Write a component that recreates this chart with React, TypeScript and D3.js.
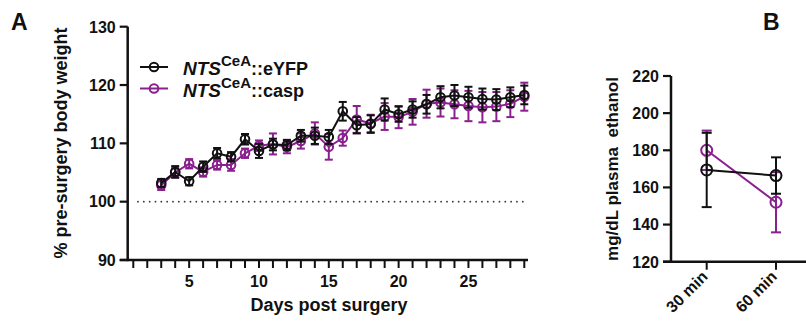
import React from "react";
import * as d3 from "d3";

// ---------- Panel A data ----------
const days = [3,4,5,6,7,8,9,10,11,12,13,14,15,16,17,18,19,20,21,22,23,24,25,26,27,28,29];
const eyfpMean = [103.2,105.1,103.5,106.0,108.3,107.7,110.7,108.7,109.8,109.7,111.3,111.3,111.1,115.5,113.1,113.3,115.8,115.0,115.8,116.7,117.9,118.2,117.9,117.6,117.5,117.9,118.3];
const eyfpSem  = [0.7,1.0,0.7,0.9,0.9,0.8,0.9,1.2,1.0,0.9,1.0,1.4,1.2,1.6,1.4,1.5,1.9,1.3,1.4,1.6,1.9,1.8,1.8,1.8,1.8,1.7,1.6];
const caspMean = [102.8,105.0,106.5,105.1,106.3,106.3,108.3,109.6,109.9,109.4,110.4,111.7,109.4,110.9,114.1,113.4,114.6,114.5,115.4,116.8,117.0,116.7,116.4,116.2,116.3,116.8,118.0];
const caspSem  = [0.8,0.8,0.8,0.8,0.8,1.0,0.8,0.9,1.8,1.1,1.3,1.9,2.2,1.3,2.3,1.5,2.3,1.9,2.2,2.4,2.4,2.4,2.6,2.6,2.5,2.3,2.4];
const xTickDays = d3.range(1, 30);
const xTickLabels = [5, 10, 15, 20, 25];
const yTicksA = [90, 100, 110, 120, 130];

// ---------- Panel B data ----------
const timepoints = ["30 min", "60 min"];
const eyfpEtOH = [169.4, 166.4];
const eyfpEtOHSem = [20.0, 9.8];
const caspEtOH = [180.0, 152.0];
const caspEtOHSem = [10.6, 16.2];
const yTicksB = [120, 140, 160, 180, 200, 220];

const BLACK = "#111111";
const PURPLE = "#8a1f8e";
const FONT = "'Liberation Sans', Arial, sans-serif";

function Series({ xs, ys, es, color, x, y, r, cap }) {
  const line = d3.line().x((d) => d[0]).y((d) => d[1]);
  const pts = xs.map((d, i) => [x(d), y(ys[i])]);
  return (
    <g>
      <path d={line(pts)} fill="none" stroke={color} strokeWidth={2} />
      {xs.map((d, i) => {
        const cx = x(d);
        const top = y(ys[i] + es[i]);
        const bot = y(ys[i] - es[i]);
        return (
          <g key={i} stroke={color} strokeWidth={2} fill="none">
            <line x1={cx} x2={cx} y1={top} y2={bot} />
            <line x1={cx - cap / 2} x2={cx + cap / 2} y1={top} y2={top} />
            <line x1={cx - cap / 2} x2={cx + cap / 2} y1={bot} y2={bot} />
            <circle cx={cx} cy={y(ys[i])} r={r} />
          </g>
        );
      })}
    </g>
  );
}

export default function App() {
  // Panel A scales
  const xA = d3.scaleLinear().domain([1, 29]).range([133.3, 524.3]);
  const yA = d3.scaleLinear().domain([90, 130]).range([260, 26.7]);
  const axAx = 127.7;

  // Panel B scales
  const xB = d3.scalePoint().domain(timepoints).range([706.7, 776]).padding(0);
  const yB = d3.scaleLinear().domain([120, 220]).range([261.7, 76]);
  const axBx = 671;

  const dots = d3.range(138, 528, 5.83);

  return (
    <svg
      width={806}
      height={327}
      style={{ position: "absolute", left: 0, top: 0, background: "#fff" }}
      fontFamily={FONT}
      fontWeight="bold"
    >
      <rect width={806} height={327} fill="#fff" />
      {/* Panel labels */}
      <text x={11} y={30} fontSize={23} fill={BLACK}>A</text>
      <text x={763} y={30} fontSize={23} fill={BLACK}>B</text>

      {/* ---------- Panel A ---------- */}
      {dots.map((dx, i) => (
        <circle key={i} cx={dx} cy={yA(100)} r={0.9} fill="#333" />
      ))}
      <line x1={axAx} x2={axAx} y1={yA(130)} y2={yA(90) + 1.2} stroke={BLACK} strokeWidth={2.5} />
      {yTicksA.map((t) => (
        <g key={t}>
          <line x1={axAx - 8} x2={axAx} y1={yA(t)} y2={yA(t)} stroke={BLACK} strokeWidth={2.2} />
          <text x={axAx - 12} y={yA(t) + 5.8} fontSize={16} textAnchor="end" fill={BLACK}>{t}</text>
        </g>
      ))}
      <line x1={axAx - 8} x2={528} y1={yA(90)} y2={yA(90)} stroke={BLACK} strokeWidth={2.5} />
      {xTickDays.map((d) => (
        <line key={d} x1={xA(d)} x2={xA(d)} y1={yA(90)} y2={yA(90) + 8} stroke={BLACK} strokeWidth={2} />
      ))}
      {xTickLabels.map((d) => (
        <text key={d} x={xA(d)} y={287} fontSize={16} textAnchor="middle" fill={BLACK}>{d}</text>
      ))}
      <text x={329} y={311} fontSize={18} textAnchor="middle" fill={BLACK}>Days post surgery</text>
      <text transform={`translate(67,143) rotate(-90)`} fontSize={18} textAnchor="middle" fill={BLACK}>
        % pre-surgery body weight
      </text>

      <Series xs={days} ys={caspMean} es={caspSem} color={PURPLE} x={xA} y={yA} r={4.3} cap={8} />
      <Series xs={days} ys={eyfpMean} es={eyfpSem} color={BLACK} x={xA} y={yA} r={4.3} cap={8} />

      {/* legend */}
      <g>
        <line x1={140} x2={168} y1={67} y2={67} stroke={BLACK} strokeWidth={2} />
        <circle cx={154} cy={67} r={4.3} fill="none" stroke={BLACK} strokeWidth={2} />
        <text x={183} y={75} fontSize={18} fill={BLACK}>
          <tspan fontStyle="italic" fontSize={19}>NTS</tspan>
          <tspan fontSize={15} dy={-9}>CeA</tspan>
          <tspan dy={9}>::eYFP</tspan>
        </text>
        <line x1={140} x2={168} y1={88.5} y2={88.5} stroke={PURPLE} strokeWidth={2} />
        <circle cx={154} cy={88.5} r={4.3} fill="none" stroke={PURPLE} strokeWidth={2} />
        <text x={183} y={96.5} fontSize={18} fill={BLACK}>
          <tspan fontStyle="italic" fontSize={19}>NTS</tspan>
          <tspan fontSize={15} dy={-9}>CeA</tspan>
          <tspan dy={9}>::casp</tspan>
        </text>
      </g>

      {/* ---------- Panel B ---------- */}
      <line x1={axBx} x2={axBx} y1={yB(220)} y2={yB(120) + 1.2} stroke={BLACK} strokeWidth={2.5} />
      {yTicksB.map((t) => (
        <g key={t}>
          <line x1={axBx - 8} x2={axBx} y1={yB(t)} y2={yB(t)} stroke={BLACK} strokeWidth={2.2} />
          <text x={axBx - 12} y={yB(t) + 5.8} fontSize={16} textAnchor="end" fill={BLACK}>{t}</text>
        </g>
      ))}
      <line x1={axBx - 8} x2={806} y1={yB(120)} y2={yB(120)} stroke={BLACK} strokeWidth={2.5} />
      {timepoints.map((t) => (
        <g key={t}>
          <line x1={xB(t)} x2={xB(t)} y1={yB(120)} y2={yB(120) + 8} stroke={BLACK} strokeWidth={2} />
          <text transform={`translate(${xB(t) + 2},${yB(120) + 16}) rotate(-45)`} fontSize={16} textAnchor="end" fill={BLACK}>
            {t}
          </text>
        </g>
      ))}
      <text
        transform={`translate(618,169) rotate(-90)`}
        fontSize={17}
        textAnchor="middle"
        fill={BLACK}
        style={{ whiteSpace: "pre" }}
      >
        {"mg/dL plasma  ethanol"}
      </text>
      <Series xs={timepoints} ys={caspEtOH} es={caspEtOHSem} color={PURPLE} x={xB} y={yB} r={5.5} cap={10} />
      <Series xs={timepoints} ys={eyfpEtOH} es={eyfpEtOHSem} color={BLACK} x={xB} y={yB} r={5.5} cap={10} />
    </svg>
  );
}
